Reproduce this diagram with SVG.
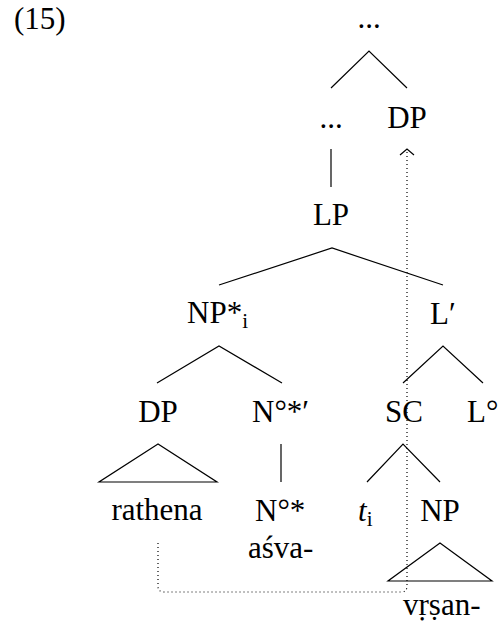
<svg xmlns="http://www.w3.org/2000/svg" width="500" height="627" viewBox="0 0 500 627" font-family="'Liberation Serif', 'Times New Roman', Tinos, 'DejaVu Serif', serif" font-size="31">
<style>
.m{text-anchor:middle}
.sub{font-size:21px}
.e{stroke:#000;stroke-width:1.2;fill:none}
.mv{stroke:#000;stroke-width:1.2;fill:none;stroke-dasharray:1 3}
</style>
<rect width="500" height="627" fill="#fff"/>
<text x="14" y="29">(15)</text>
<g id="n-top"><text class="m" x="369" y="28">...</text></g>
<g id="n-dots"><text class="m" x="331" y="128">...</text></g>
<g id="n-dp1"><text class="m" x="407" y="128">DP</text></g>
<g id="n-lp"><text class="m" x="331" y="225">LP</text></g>
<g id="n-np"><text x="187" y="323">NP*<tspan class="sub" dy="5">i</tspan></text></g>
<g id="n-lbar"><text x="430" y="324">L′</text></g>
<g id="n-dp2"><text class="m" x="158" y="422">DP</text></g>
<g id="n-nbar"><text x="252" y="422">N°*′</text></g>
<g id="n-sc"><text class="m" x="404" y="422">SC</text></g>
<g id="n-l0"><text x="467" y="422">L°</text></g>
<g id="n-rathena"><text class="m" x="157" y="520">rathena</text></g>
<g id="n-n0"><text x="255" y="521">N°*</text><text x="248" y="558">aśva-</text></g>
<g id="n-t"><text x="358" y="521"><tspan font-style="italic">t</tspan><tspan class="sub" dy="5">i</tspan></text></g>
<g id="n-np2"><text class="m" x="440" y="521">NP</text><text x="403" y="615">vṛṣan-</text></g>
<g id="edges">
<path class="e" d="M331,88 L369,51 L407,88"/>
<path class="e" d="M331,149 V187"/>
<path class="e" d="M219,285 L332,248 L443,285"/>
<path class="e" d="M157,383 L219,346 L282,383"/>
<path class="e" d="M403,383 L443,346 L483,383"/>
<path class="e" d="M158,444 L99,482 H217 Z"/>
<path class="e" d="M281,444 V482"/>
<path class="e" d="M367,482 L403,444 L440,482"/>
<path class="e" d="M440,543 L388,581 H492 Z"/>
<path class="mv" d="M158,543 V586 Q158,592 164,592 H401 Q407,592 407,586 V151"/>
<path class="e" d="M400,155 L407,149 L414,155"/>
</g>
</svg>
